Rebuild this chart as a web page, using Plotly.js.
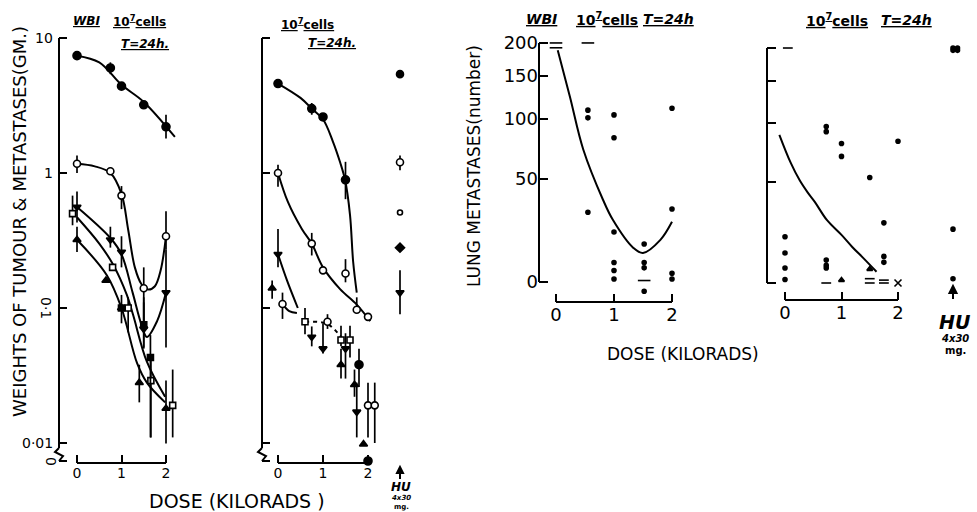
<!DOCTYPE html>
<html><head><meta charset="utf-8">
<script src="https://cdn.plot.ly/plotly-3.0.1.min.js"></script>
<style>body{margin:0;background:#fff}</style>
</head><body>
<div id="chart" style="width:977px;height:512px"></div>
<script>
// ================= DATA =================
const doseTicks = [0, 1, 2];
const doseTickLabels = ['0', '1', '2'];
const weightTicks = [10, 1, 0.1, 0.01];
const weightTickLabels = ['10', '1', '0·1', '0·01'];
const lungTicks = [0, 50, 100, 150, 200];
const lungTickLabels = ['0', '50', '100', '150', '200'];

// ---- Panel A: WBI, 10^7 cells, T=24h  (weights, g) ----
const A_fc_x = [0, 0.75, 1.0, 1.5, 2.0];
const A_fc_y = [7.4, 6.0, 4.4, 3.2, 2.2];
const A_fc_hi = [7.4, 6.6, 4.4, 3.4, 2.7];
const A_fc_lo = [7.4, 5.4, 4.4, 3.0, 1.8];
const A_oc_x = [0, 0.75, 1.0, 1.5, 2.0];
const A_oc_y = [1.17, 1.03, 0.68, 0.14, 0.34];
const A_oc_hi = [1.35, 1.1, 0.8, 0.2, 0.52];
const A_oc_lo = [1.0, 0.97, 0.54, 0.066, 0.27];
const A_dt_x = [0, 0.75, 1.0, 1.5, 2.0];
const A_dt_y = [0.56, 0.32, 0.26, 0.07, 0.13];
const A_dt_hi = [0.73, 0.4, 0.34, 0.11, 0.27];
const A_dt_lo = [0.43, 0.28, 0.2, 0.051, 0.051];
const A_os_x = [-0.1, 0.8, 1.15, 1.66, 2.15];
const A_os_y = [0.5, 0.2, 0.1, 0.029, 0.019];
const A_os_hi = [0.68, 0.2, 0.12, 0.041, 0.035];
const A_os_lo = [0.41, 0.2, 0.066, 0.011, 0.011];
const A_ut_x = [0, 0.65, 1.0, 1.4, 2.0];
const A_ut_y = [0.32, 0.16, 0.1, 0.028, 0.018];
const A_ut_hi = [0.4, 0.16, 0.125, 0.038, 0.029];
const A_ut_lo = [0.26, 0.16, 0.077, 0.02, 0.0099];
const A_fs_x = [1.0, 1.5, 1.65];
const A_fs_y = [0.1, 0.075, 0.043];
const A_fs_hi = [0.1, 0.12, 0.063];
const A_fs_lo = [0.1, 0.05, 0.011];
// fitted curves, panel A
const A_fc_cx = [0, 0.5, 1.0, 1.5, 2.2];
const A_fc_cy = [7.4, 6.6, 4.5, 3.36, 1.85];
const A_oc_cx = [0, 0.4, 0.75, 1.0, 1.15, 1.3, 1.45, 1.6, 1.75, 1.88, 2.0];
const A_oc_cy = [1.17, 1.12, 1.0, 0.7, 0.38, 0.2, 0.15, 0.137, 0.145, 0.19, 0.34];
const A_dt_cx = [0, 0.75, 1.0, 1.25, 1.45, 1.57, 1.8, 2.0];
const A_dt_cy = [0.56, 0.33, 0.25, 0.13, 0.075, 0.061, 0.08, 0.13];
const A_os_cx = [0, 0.5, 0.81, 1.12, 1.26, 1.57, 1.98];
const A_os_cy = [0.47, 0.3, 0.21, 0.125, 0.089, 0.04, 0.022];
const A_ut_cx = [0, 0.67, 1.0, 1.35, 1.57, 1.98];
const A_ut_cy = [0.32, 0.175, 0.1, 0.039, 0.028, 0.02];

// ---- Panel B: 10^7 cells, T=24h ----
const B_fc_x = [0, 0.75, 1.0, 1.5, 1.8];
const B_fc_y = [4.6, 3.0, 2.6, 0.89, 0.038];
const B_fc_hi = [4.6, 3.3, 2.6, 1.21, 0.05];
const B_fc_lo = [4.6, 2.7, 2.6, 0.64, 0.026];
const B_fc0_x = [2.0];
const B_fc0_y = [0];
const B_oc_x = [0, 0.1, 0.75, 1.0, 1.1, 1.5, 1.75, 2.0, 2.0, 2.15];
const B_oc_y = [1.0, 0.107, 0.30, 0.19, 0.079, 0.18, 0.097, 0.086, 0.019, 0.019];
const B_oc_hi = [1.15, 0.13, 0.36, 0.19, 0.09, 0.23, 0.12, 0.086, 0.028, 0.028];
const B_oc_lo = [0.79, 0.083, 0.245, 0.19, 0.07, 0.155, 0.092, 0.086, 0.011, 0.01];
const B_dt_x = [0, 0.75, 1.0, 1.5, 1.75];
const B_dt_y = [0.25, 0.061, 0.05, 0.05, 0.017];
const B_dt_hi = [0.385, 0.073, 0.077, 0.065, 0.028];
const B_dt_lo = [0.2, 0.052, 0.046, 0.03, 0.011];
const B_ut_x = [-0.13, 1.4, 1.7, 1.9];
const B_ut_y = [0.14, 0.038, 0.027, 0.0098];
const B_ut_hi = [0.16, 0.05, 0.035, 0.0098];
const B_ut_lo = [0.117, 0.03, 0.022, 0.0098];
const B_os_x = [0.6, 1.4, 1.6];
const B_os_y = [0.079, 0.058, 0.058];
const B_os_hi = [0.1, 0.074, 0.074];
const B_os_lo = [0.064, 0.052, 0.043];
// fitted curves, panel B
const B_fc_cx = [0, 0.5, 0.75, 1.0, 1.22, 1.38, 1.49, 1.6, 1.67, 1.75];
const B_fc_cy = [4.6, 3.6, 3.0, 2.5, 1.71, 1.2, 0.89, 0.49, 0.22, 0.13];
const B_oc_cx = [0, 0.22, 0.53, 0.75, 1.0, 1.38, 1.75, 2.05];
const B_oc_cy = [1.0, 0.61, 0.385, 0.3, 0.2, 0.138, 0.106, 0.08];
const B_dt_cx = [0, 0.2, 0.44];
const B_dt_cy = [0.25, 0.16, 0.1];
const B_oc2_cx = [0.1, 0.25, 0.42];
const B_oc2_cy = [0.107, 0.095, 0.092];
const B_dash_cx = [0.6, 1.1, 1.45];
const B_dash_cy = [0.079, 0.076, 0.058];
// HU (4x30 mg) column, weights
const HU_w_y = [5.4, 1.2, 0.51, 0.28, 0.13];
const HU_w_hi = [5.4, 1.35, 0.51, 0.3, 0.19];
const HU_w_lo = [5.4, 1.05, 0.51, 0.26, 0.09];

// ---- Panel C: lung metastases, WBI ----
const C_dot_x = [0.55, 0.55, 0.55, 1.0, 1.0, 1.0, 1.0, 1.0, 1.0, 1.52, 1.52, 1.52, 1.52, 2.0, 2.0, 2.0, 2.0];
const C_dot_y = [109, 101, 30, 104, 82, 20, 7, 4, 1, 14.6, 7, 5, -3, 111, 31.7, 3, 1];
const C_dash_x = [0, 0, 0.55, 1.52];
const C_dash_y = [200, 192, 200, 0.5];
const C_curve_x = [0.03, 0.24, 0.47, 0.81, 0.98, 1.33, 1.5, 1.8, 2.0];
const C_curve_y = [188, 124, 72, 37, 26, 13, 10.8, 16.4, 25];

// ---- Panel D: lung metastases, 10^7 cells only ----
const D_dot_x = [0, 0, 0, 0, 0.73, 0.73, 0.73, 0.73, 0.73, 1.0, 1.0, 1.5, 1.75, 1.75, 1.75, 2.0];
const D_dot_y = [18.6, 11.4, 5.4, 1.2, 96, 91, 8.5, 6.4, 5.4, 80, 69, 53, 25.5, 10, 7.6, 82];
const D_dash_x = [0.05, 0.73, 1.5, 1.5, 1.75, 1.75];
const D_dash_y = [200, 0, 1.5, 0, 1, 0];
const D_tri_x = [1.0, 1.5];
const D_tri_y = [1, 5];
const D_cross_x = [2.0];
const D_cross_y = [0];
const D_curve_x = [-0.1, 0.1, 0.26, 0.4, 0.53, 0.74, 1.0, 1.19, 1.4, 1.62];
const D_curve_y = [88, 64, 51, 43, 37, 27, 19.5, 14, 9, 4];
const D_HU_y = [200, 196, 22.3, 1.5];
const D_HU2_y = [200, 196];

// ================= GEOMETRY =================
const W = 977, H = 512;
const px = p => p / W, py = p => 1 - p / H;
const geo = {
  A: {zero: 77, unit: 44.5, left: 59, right: 205, xAxis: 463},
  B: {zero: 278, unit: 45, left: 262, right: 425, xAxis: 463},
  C: {zero: 556, unit: 58, left: 539, right: 705, xAxis: 302, y0: 282, tpx: 342},
  D: {zero: 785, unit: 56.5, left: 767, right: 975, xAxis: 300, y0: 283, tpx: 336.2}
};
const HU_B = (400 - geo.B.zero) / geo.B.unit;
const HU_D = (953 - geo.D.zero) / geo.D.unit;
const xr = g => [(g.left - g.zero) / g.unit, (g.right - g.zero) / g.unit];
const dpx = (g, d) => g.zero + d * g.unit;

const LOG_TOP = 38, DEC = 135, LOGDOM = [10, 488];
const logRange = [1 - (LOGDOM[1] - LOG_TOP) / DEC, 1 + (LOG_TOP - LOGDOM[0]) / DEC];
const logPx = v => LOG_TOP + (1 - Math.log10(v)) * DEC;
const ZERO_PX = 461;
const ZERO_VAL = Math.pow(10, 1 - (ZERO_PX - LOG_TOP) / DEC);
const wt = arr => arr.map(v => v === 0 ? ZERO_VAL : v);

const lungT = n => Math.log10(n + 50);
const T0 = lungT(0);
const LINDOM = [22, 315];
const linRange = g => [T0 - (LINDOM[1] - g.y0) / g.tpx, T0 + (g.y0 - LINDOM[0]) / g.tpx];
const lungPx = (g, n) => g.y0 - (lungT(n) - T0) * g.tpx;
const lt = arr => arr.map(lungT);

// ================= TRACES =================
const traces = [];
function curve(ax, x, y, dash) {
  traces.push({type: 'scatter', mode: 'lines', x: x, y: y, xaxis: 'x' + ax, yaxis: 'y' + ax,
    line: {color: '#000', width: 2, shape: 'spline', smoothing: 1, dash: dash || 'solid'}, hoverinfo: 'skip'});
}
function pts(ax, x, y, sym, fill, size, hi, lo) {
  const t = {type: 'scatter', mode: 'markers', x: x, y: y, xaxis: 'x' + ax, yaxis: 'y' + ax, cliponaxis: false,
    marker: {symbol: sym, size: size, color: fill, line: {color: '#000', width: 1.6}}, hoverinfo: 'skip'};
  if (hi) t.error_y = {type: 'data', symmetric: false, array: y.map((v, i) => hi[i] - v),
    arrayminus: y.map((v, i) => v - lo[i]), thickness: 1.7, width: 0, color: '#000'};
  traces.push(t);
}
const K = '#000', Wh = '#fff';
// Panel A
curve('', A_fc_cx, A_fc_cy); curve('', A_oc_cx, A_oc_cy); curve('', A_dt_cx, A_dt_cy);
curve('', A_os_cx, A_os_cy); curve('', A_ut_cx, A_ut_cy);
pts('', A_fc_x, A_fc_y, 'circle', K, 8, A_fc_hi, A_fc_lo);
pts('', A_oc_x, A_oc_y, 'circle', Wh, 7, A_oc_hi, A_oc_lo);
pts('', A_dt_x, A_dt_y, 'triangle-down', K, 7, A_dt_hi, A_dt_lo);
pts('', A_os_x, A_os_y, 'square', Wh, 6, A_os_hi, A_os_lo);
pts('', A_ut_x, A_ut_y, 'triangle-up', K, 7, A_ut_hi, A_ut_lo);
pts('', A_fs_x, A_fs_y, 'square', K, 6, A_fs_hi, A_fs_lo);
// Panel B
curve('2', B_fc_cx, B_fc_cy); curve('2', B_oc_cx, B_oc_cy); curve('2', B_dt_cx, B_dt_cy);
curve('2', B_oc2_cx, B_oc2_cy); curve('2', B_dash_cx, B_dash_cy, '4px,4px');
pts('2', B_fc_x, B_fc_y, 'circle', K, 8, B_fc_hi, B_fc_lo);
pts('2', B_fc0_x, wt(B_fc0_y), 'circle', K, 8);
pts('2', B_oc_x, B_oc_y, 'circle', Wh, 7, B_oc_hi, B_oc_lo);
pts('2', B_dt_x, B_dt_y, 'triangle-down', K, 7, B_dt_hi, B_dt_lo);
pts('2', B_ut_x, B_ut_y, 'triangle-up', K, 7, B_ut_hi, B_ut_lo);
pts('2', B_os_x, B_os_y, 'square', Wh, 6, B_os_hi, B_os_lo);
const huSym = ['circle', 'circle', 'circle', 'diamond', 'triangle-down'];
const huFill = [K, Wh, Wh, K, K];
HU_w_y.forEach((v, i) => pts('2', [HU_B], [v], huSym[i], huFill[i], i === 2 ? 5 : 7, [HU_w_hi[i]], [HU_w_lo[i]]));
// Panel C
curve('3', C_curve_x, lt(C_curve_y));
pts('3', C_dot_x, lt(C_dot_y), 'circle', K, 4);
pts('3', C_dash_x, lt(C_dash_y), 'line-ew', K, 9);
// Panel D
curve('4', D_curve_x, lt(D_curve_y));
pts('4', D_dot_x, lt(D_dot_y), 'circle', K, 4);
pts('4', D_dash_x, lt(D_dash_y), 'line-ew', K, 7);
pts('4', D_tri_x, lt(D_tri_y), 'triangle-up', K, 5);
pts('4', D_cross_x, lt(D_cross_y), 'x-thin', K, 7);
pts('4', D_HU_y.map(() => HU_D), lt(D_HU_y), 'circle', K, 4);
pts('4', D_HU2_y.map(() => HU_D + 0.08), lt(D_HU2_y), 'circle', K, 4);

// ================= LAYOUT =================
const F = 'DejaVu Sans, Arial, sans-serif';
function xAxis(g, fs) {
  return {domain: [px(g.left), px(g.right)], range: xr(g), anchor: 'free', position: py(g.xAxis),
    showline: false, showgrid: false, zeroline: false, ticks: 'inside', ticklen: 8, tickwidth: 2, tickcolor: K,
    tickvals: doseTicks, ticktext: doseTickLabels, tickfont: {size: fs, color: K, family: F}, fixedrange: true};
}
function logAxis(anchor) {
  return {type: 'log', domain: [py(LOGDOM[1]), py(LOGDOM[0])], range: logRange, anchor: anchor,
    showline: false, showgrid: false, zeroline: false, ticks: 'inside', ticklen: 8, tickwidth: 2, tickcolor: K,
    tickvals: weightTicks.concat([ZERO_VAL]), showticklabels: false, fixedrange: true};
}
function linAxis(g, anchor, labels) {
  const a = {domain: [py(LINDOM[1]), py(LINDOM[0])], range: linRange(g), anchor: anchor,
    showline: false, showgrid: false, zeroline: false, ticks: 'inside', ticklen: 9, tickwidth: 2, tickcolor: K,
    tickvals: lungTicks.map(lungT), showticklabels: labels, fixedrange: true};
  if (labels) { a.ticktext = lungTickLabels; a.tickfont = {size: 18, color: K, family: F}; }
  return a;
}

const shapes = [];
function seg(x0, y0, x1, y1, w) {
  shapes.push({type: 'line', xref: 'paper', yref: 'paper', x0: px(x0), y0: py(y0), x1: px(x1), y1: py(y1),
    line: {color: K, width: w || 2}});
}
function path(points, fill) {
  const d = points.map((p, i) => (i ? 'L ' : 'M ') + px(p[0]) + ' ' + py(p[1])).join(' ') + (fill ? ' Z' : '');
  const s = {type: 'path', xref: 'paper', yref: 'paper', path: d, line: {color: K, width: 2}};
  if (fill) s.fillcolor = K;
  shapes.push(s);
}
function upArrow(x, yTip, len, head) {
  seg(x, yTip + head, x, yTip + len, 2);
  path([[x, yTip], [x - head * 0.5, yTip + head], [x + head * 0.5, yTip + head]], true);
}
['A', 'B'].forEach(k => {
  const g = geo[k];
  seg(g.left, logPx(10), g.left, 448);
  path([[g.left, 448], [g.left - 4, 452], [g.left + 4, 456], [g.left, ZERO_PX]]);
  seg(dpx(g, 0), g.xAxis, dpx(g, 2), g.xAxis);
});
['C', 'D'].forEach(k => {
  const g = geo[k];
  seg(g.left, lungPx(g, 200), g.left, lungPx(g, 0));
  seg(dpx(g, 0), g.xAxis, dpx(g, 2), g.xAxis);
});
upArrow(dpx(geo.B, HU_B), 467, 12, 6);
upArrow(dpx(geo.D, HU_D), 286, 13, 7);

const ann = [];
function txt(t, x, y, size, opts) {
  ann.push(Object.assign({text: t, xref: 'paper', yref: 'paper', x: px(x), y: py(y), showarrow: false,
    xanchor: 'center', yanchor: 'middle', font: {size: size, color: K, family: F}}, opts || {}));
}
// axis titles
txt('WEIGHTS OF TUMOUR & METASTASES(GM.)', 19, 222, 18, {textangle: -90});
txt('LUNG METASTASES(number)', 474, 166, 17, {textangle: -90});
txt('DOSE (KILORADS )', 237, 501, 19);
txt('DOSE (KILORADS)', 683, 354, 17);
// tick labels of the broken log axis (panel A)
txt(weightTickLabels[0], 55, logPx(weightTicks[0]), 14, {xanchor: 'right'});
txt(weightTickLabels[1], 55, logPx(weightTicks[1]), 14, {xanchor: 'right'});
txt(weightTickLabels[2], 46, logPx(weightTicks[2]), 14, {textangle: 90});
txt(weightTickLabels[3], 55, logPx(weightTicks[3]), 14, {xanchor: 'right'});
txt('0', 51, ZERO_PX, 14, {textangle: 90});
// headers
txt('<b><i><u>WBI</u></i></b>', 86, 21, 12);
txt('<b><u>10<sup>7</sup>cells</u></b>', 139, 21, 12);
txt('<b><i><u>T=24h.</u></i></b>', 145, 44, 12);
txt('<b><u>10<sup>7</sup>cells</u></b>', 307, 24, 12);
txt('<b><i><u>T=24h.</u></i></b>', 332, 43, 12);
txt('<b><i><u>WBI</u></i></b>', 541, 19, 14);
txt('<b><u>10<sup>7</sup>cells</u></b>', 607, 19, 14);
txt('<b><i><u>T=24h</u></i></b>', 668, 19, 14);
txt('<b><u>10<sup>7</sup>cells</u></b>', 837, 20, 14);
txt('<b><i><u>T=24h</u></i></b>', 906, 20, 14);
// HU labels
txt('<b><i>HU</i></b>', 401, 487, 12);
txt('<b><i>4x30</i></b>', 401, 498, 7);
txt('<b>mg.</b>', 401, 507, 7);
txt('<b><i>HU</i></b>', 955, 322, 19);
txt('<b><i>4x30</i></b>', 955, 338, 10);
txt('<b>mg.</b>', 955, 350, 10);

const layout = {
  width: W, height: H, margin: {l: 0, r: 0, t: 0, b: 0}, showlegend: false,
  paper_bgcolor: '#fff', plot_bgcolor: 'rgba(0,0,0,0)', font: {family: F, color: K},
  xaxis: xAxis(geo.A, 14), yaxis: logAxis('x'),
  xaxis2: xAxis(geo.B, 14), yaxis2: logAxis('x2'),
  xaxis3: xAxis(geo.C, 18), yaxis3: linAxis(geo.C, 'x3', true),
  xaxis4: xAxis(geo.D, 18), yaxis4: linAxis(geo.D, 'x4', false),
  shapes: shapes, annotations: ann
};
Plotly.newPlot('chart', traces, layout, {staticPlot: true, displayModeBar: false});
</script>
</body></html>
